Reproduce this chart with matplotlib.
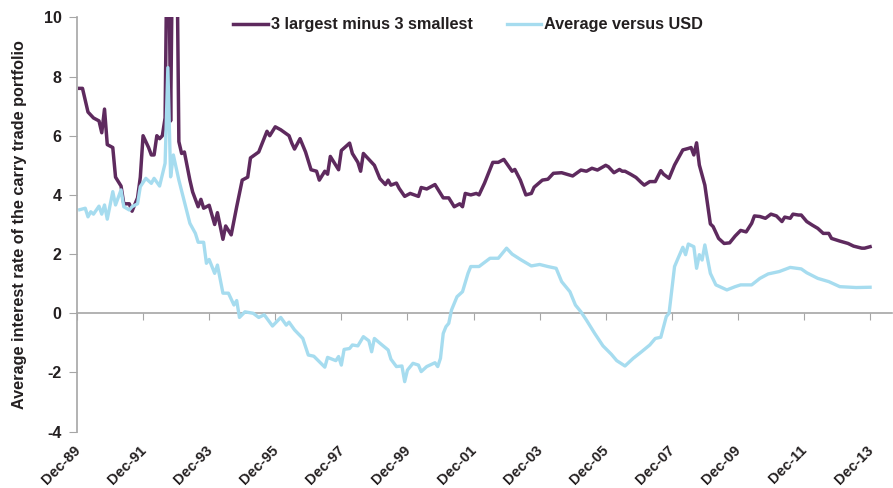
import numpy as np
import matplotlib
matplotlib.use("Agg")
import matplotlib.pyplot as plt
from matplotlib.transforms import ScaledTranslation

plt.rcParams['font.family'] = ['Liberation Sans', 'DejaVu Sans']
plt.rcParams['axes.unicode_minus'] = False

# months counted from Dec-89
spread_months = [1, 2, 4, 6, 8, 9, 10, 11, 13, 14, 16, 17, 19, 20, 22, 23, 24, 26, 27, 28,
                 29, 30, 31, 32, 33, 34, 35, 36, 37, 38, 39, 41, 42, 44, 45, 46, 48, 50, 51, 53,
                 54, 56, 58, 60, 62, 63, 66, 69, 70, 72, 74, 77, 78, 79, 81, 83, 85, 87, 88, 90,
                 91, 92, 95, 96, 99, 100, 102, 103, 104, 106, 108, 110, 112, 113, 114, 116, 117, 119, 121, 124,
                 125, 127, 130, 131, 133, 135, 137, 139, 140, 141, 143, 145, 146, 148, 151, 153, 155, 158, 159, 161,
                 163, 165, 166, 169, 171, 173, 176, 180, 183, 185, 187, 189, 192, 193, 195, 197, 198, 199, 201, 203,
                 205, 206, 208, 210, 212, 213, 215, 217, 220, 222, 223, 224, 225, 226, 228, 230, 231, 233, 235, 237,
                 239, 241, 243, 245, 246, 248, 250, 252, 254, 256, 257, 259, 260, 262, 263, 265, 267, 269, 271, 273,
                 274, 277, 280, 282, 285, 286, 288]
spread_vals = [7.6, 7.6, 6.8, 6.6, 6.5, 6.1, 6.9, 5.7, 5.6, 4.6, 4.3, 3.7, 3.7, 3.45, 3.9, 4.6, 6.0, 5.6, 5.35, 5.35,
               6.0, 5.9, 6.0, 6.6, 15.0, 6.5, 15.0, 15.0, 5.8, 5.4, 5.45, 4.5, 4.1, 3.6, 3.85, 3.55, 3.65, 3.0, 3.4, 2.5,
               2.95, 2.65, 3.6, 4.5, 4.6, 5.25, 5.45, 6.15, 6.0, 6.3, 6.2, 6.0, 5.75, 5.55, 5.9, 5.45, 4.85, 4.8, 4.5, 4.8,
               4.7, 5.3, 4.85, 5.5, 5.75, 5.4, 5.1, 4.8, 5.4, 5.2, 5.0, 4.55, 4.35, 4.5, 4.33, 4.4, 4.22, 3.95, 4.05, 3.95,
               4.25, 4.2, 4.35, 4.2, 3.9, 3.9, 3.6, 3.7, 3.6, 4.05, 4.0, 4.05, 4.0, 4.4, 5.1, 5.1, 5.2, 4.8, 4.86, 4.5,
               4.0, 4.05, 4.26, 4.5, 4.53, 4.73, 4.75, 4.64, 4.84, 4.8, 4.9, 4.84, 5.0, 4.95, 4.75, 4.86, 4.8, 4.8, 4.7, 4.59,
               4.41, 4.33, 4.45, 4.45, 4.82, 4.7, 4.56, 5.01, 5.52, 5.57, 5.6, 5.35, 5.76, 5.01, 4.33, 3.02, 2.93, 2.53, 2.36, 2.38,
               2.61, 2.8, 2.75, 3.04, 3.29, 3.27, 3.21, 3.35, 3.29, 3.1, 3.25, 3.21, 3.35, 3.32, 3.32, 3.1, 2.98, 2.87, 2.7, 2.7,
               2.53, 2.44, 2.36, 2.27, 2.2, 2.2, 2.25]

usd_months = [1, 3, 4, 5, 6, 8, 9, 10, 11, 13, 14, 16, 17, 19, 20, 22, 23, 25, 27, 28,
              30, 32, 33, 34, 35, 37, 39, 41, 43, 44, 46, 47, 48, 50, 51, 53, 55, 57, 58, 59,
              61, 64, 66, 68, 71, 74, 76, 77, 79, 82, 84, 86, 90, 91, 94, 95, 96, 97, 99, 100,
              102, 104, 106, 107, 108, 110, 113, 114, 116, 118, 119, 120, 122, 124, 125, 127, 130, 131, 132, 133,
              134, 135, 136, 138, 140, 142, 143, 146, 150, 153, 156, 158, 161, 165, 168, 171, 174, 176, 179, 181,
              183, 185, 188, 191, 194, 196, 199, 202, 205, 208, 210, 212, 214, 215, 217, 218, 220, 221, 222, 224,
              225, 226, 227, 228, 230, 232, 236, 239, 241, 245, 248, 251, 255, 259, 263, 265, 269, 273, 277, 283,
              288]
usd_vals = [3.5, 3.55, 3.26, 3.43, 3.35, 3.62, 3.35, 3.66, 3.18, 4.11, 3.66, 4.17, 3.6, 3.49, 3.6, 3.7, 4.28, 4.56, 4.39, 4.56,
            4.3, 5.07, 8.3, 4.61, 5.35, 4.5, 3.77, 3.04, 2.7, 2.4, 2.4, 1.69, 1.82, 1.35, 1.63, 0.68, 0.68, 0.28, 0.43, -0.14,
            0.05, 0.0, -0.14, -0.05, -0.43, -0.14, -0.4, -0.3, -0.56, -0.85, -1.41, -1.45, -1.82, -1.49, -1.6, -1.46, -1.75, -1.22, -1.19, -1.07,
            -1.1, -0.79, -0.93, -1.3, -0.85, -1.01, -1.24, -1.55, -1.8, -1.78, -2.31, -1.92, -1.69, -1.75, -1.97, -1.8, -1.67, -1.8, -1.52, -0.68,
            -0.45, -0.34, 0.11, 0.56, 0.73, 1.35, 1.58, 1.58, 1.86, 1.86, 2.2, 2.0, 1.82, 1.6, 1.65, 1.58, 1.52, 1.07, 0.73, 0.28,
            0.05, -0.23, -0.68, -1.1, -1.38, -1.6, -1.78, -1.52, -1.3, -1.07, -0.85, -0.81, -0.11, 0.0, 1.58, 1.8, 2.23, 1.98, 2.34, 2.25,
            1.52, 1.98, 1.8, 2.31, 1.35, 0.96, 0.79, 0.9, 0.96, 0.96, 1.18, 1.33, 1.41, 1.55, 1.5, 1.37, 1.18, 1.07, 0.9, 0.87,
            0.88]

tick_months = list(range(0, 289, 24))
tick_labels = ['Dec-89', 'Dec-91', 'Dec-93', 'Dec-95', 'Dec-97', 'Dec-99', 'Dec-01',
               'Dec-03', 'Dec-05', 'Dec-07', 'Dec-09', 'Dec-11', 'Dec-13']

purple = '#5e2a5e'
blue = '#a6dcef'
grey = '#a6a6a6'
txt = '#231f20'

fig = plt.figure(figsize=(8.93, 4.88), dpi=100)
ax = fig.add_axes([0.0862, 0.1154, 0.9128, 0.8491])

ax.plot(spread_months, spread_vals, color=purple, lw=2.5, label='3 largest minus 3 smallest')
ax.plot(usd_months, usd_vals, color=blue, lw=2.4, label='Average versus USD')

ax.set_xlim(0, 296)
ax.set_ylim(-4, 10)
ax.set_yticks(range(-4, 11, 2))
ax.tick_params(axis='y', direction='out', length=6, color=grey, labelsize=11.5, labelcolor=txt, pad=5)
for lab in ax.get_yticklabels():
    lab.set_fontweight('bold')

ax.set_xticks(tick_months)
ax.set_xticklabels(tick_labels, rotation=45, ha='right', va='top', rotation_mode='anchor',
                   fontsize=10.5, fontweight='bold', color=txt)
ax.tick_params(axis='x', length=0, pad=8)
shift = ScaledTranslation(-0.04, 0.0, fig.dpi_scale_trans)
for lab in ax.get_xticklabels():
    lab.set_transform(lab.get_transform() + shift)

for s in ['top', 'right', 'bottom']:
    ax.spines[s].set_visible(False)
ax.spines['left'].set_color(grey)
ax.spines['left'].set_linewidth(1.2)

# zero line with its own tick marks
zero = ax.secondary_xaxis(4 / 14)
zero.set_xticks(tick_months)
zero.tick_params(axis='x', direction='out', length=5, color=grey, labelbottom=False, labeltop=False)
zero.spines['bottom'].set_color(grey)
zero.spines['bottom'].set_linewidth(1.2)
zero.spines['top'].set_color(grey)
zero.spines['top'].set_linewidth(1.2)

ax.set_ylabel('Average interest rate of the carry trade portfolio', fontsize=11.7,
              fontweight='bold', color=txt, labelpad=12)

leg = ax.legend(loc='upper center', bbox_to_anchor=(0.48, 1.035), ncol=2, frameon=False,
                handlelength=2.1, handletextpad=0.2, columnspacing=2.1,
                prop={'weight': 'bold', 'size': 11.7})
for t in leg.get_texts():
    t.set_color(txt)

fig.savefig('out.png', dpi=100)
